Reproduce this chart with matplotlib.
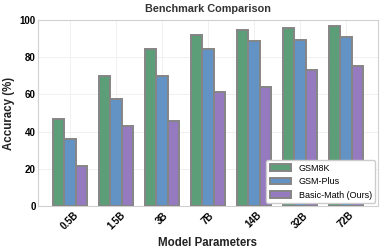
import matplotlib.pyplot as plt
import numpy as np

plt.rcParams['font.family'] = ['Liberation Sans', 'DejaVu Sans']

models = ["0.5B", "1.5B", "3B", "7B", "14B", "32B", "72B"]
gsm8k = [47, 70, 84.5, 92, 94.5, 95.5, 97]
gsm_plus = [36, 57.5, 70, 84.5, 88.5, 89, 91]
basic_math = [21.5, 43, 45.5, 61.5, 64, 73, 75]

series = [("GSM8K", gsm8k, "#5c9e78"),
          ("GSM-Plus", gsm_plus, "#6393c4"),
          ("Basic-Math (Ours)", basic_math, "#967abf")]

fig = plt.figure(figsize=(3.81, 2.49), dpi=100)
ax = fig.add_axes([38 / 381, 43 / 249, 340 / 381, 186 / 249])

x = np.arange(len(models))
w = 0.25
for i, (name, vals, col) in enumerate(series):
    ax.bar(x + (i - 1) * w, vals, w, label=name, color=col,
           edgecolor="#858585", linewidth=1.4, zorder=3)

ax.set_ylim(0, 100)
ax.set_xlim(-0.7, 6.7)
ax.set_xticks(x)
ax.set_xticklabels(models, rotation=45, fontsize=7, fontweight="bold")
ax.set_yticks([0, 20, 40, 60, 80, 100])
ax.tick_params(axis="y", labelsize=7, length=0, pad=1.5)
ax.tick_params(axis="x", length=0, pad=3)
for lab in ax.get_yticklabels():
    lab.set_fontweight("bold")
ax.grid(True, color="#eeeeee", linewidth=0.6, zorder=0)
for s in ax.spines.values():
    s.set_color("#d0d0d0")
    s.set_linewidth(0.8)

ax.set_title("Benchmark Comparison", fontsize=7.8, fontweight="bold", color="#333333", pad=6)
ax.set_xlabel("Model Parameters", fontsize=8.3, fontweight="bold", color="#222222", labelpad=4)
ax.set_ylabel("Accuracy (%)", fontsize=8.3, fontweight="bold", color="#222222", labelpad=3.5)

ax.legend(loc="lower right", fontsize=6.5, frameon=True, framealpha=1,
          edgecolor="#cccccc", handlelength=2.4, borderaxespad=0.3)

fig.savefig("out.png", dpi=100)
